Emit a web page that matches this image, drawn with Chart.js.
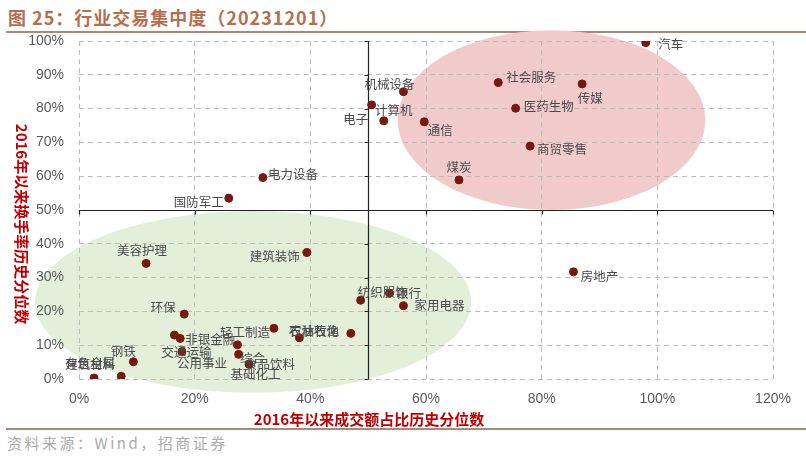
<!DOCTYPE html>
<html>
<head>
<meta charset="utf-8">
<script src="https://cdn.jsdelivr.net/npm/chart.js@4.4.0/dist/chart.umd.min.js"></script>
<style>
  html, body { margin: 0; padding: 0; background: #fff; }
  #wrap { position: relative; width: 806px; height: 458px; overflow: hidden; }
  #title { position: absolute; left: 8px; top: 4px; font: bold 18px "Noto Sans CJK SC", sans-serif; color: #b86e4c; letter-spacing: 1px; }
  .rule { position: absolute; left: 6px; right: 0; height: 2px; background: #a88a78; }
  #source { position: absolute; left: 7px; top: 432px; font: 15px "Noto Sans CJK SC", sans-serif; color: #ababab; letter-spacing: 2.5px; }
  #box { position: absolute; left: 0; top: 0; width: 806px; height: 458px; }
</style>
</head>
<body>
<div id="wrap">
  <div id="title">图 25：行业交易集中度（20231201）</div>
  <div class="rule" style="top:31px"></div>
  <div class="rule" style="top:428px"></div>
  <div id="source">资料来源：Wind，招商证券</div>
  <div id="box"><canvas id="chart"></canvas></div>
</div>
<script>
// --- 數據 (從圖上讀取的估計值) ---
const industries = ["汽车","社会服务","传媒","医药生物","商贸零售","煤炭","通信","机械设备","计算机","电子",
  "电力设备","国防军工","美容护理","建筑装饰","房地产","纺织服饰","银行","家用电器","农林牧渔","石油石化",
  "轻工制造","环保","钢铁","有色金属","建筑材料","非银金融","交通运输","公用事业","综合","基础化工","食品饮料"];
// 2016年以来成交额占比历史分位数
const amountPct = [0.980,0.725,0.870,0.755,0.780,0.657,0.597,0.561,0.506,0.527,
  0.318,0.259,0.116,0.394,0.855,0.487,0.537,0.561,0.381,0.470,
  0.337,0.182,0.094,0.026,0.073,0.175,0.165,0.178,0.274,0.276,0.294];
// 2016年以来换手率历史分位数
const turnoverPct = [0.995,0.877,0.873,0.801,0.689,0.589,0.761,0.850,0.811,0.764,
  0.596,0.535,0.342,0.374,0.317,0.233,0.254,0.217,0.122,0.135,
  0.150,0.192,0.051,0.003,0.008,0.120,0.130,0.081,0.101,0.073,0.044];
const xTicks = [0, 0.2, 0.4, 0.6, 0.8, 1.0, 1.2];
const yTicks = [0, 0.1, 0.2, 0.3, 0.4, 0.5, 0.6, 0.7, 0.8, 0.9, 1.0];
// 兩個區域橢圓 (中心與半徑, 數據單位)
const zoneCenters = [[0.817, 0.766], [0.301, 0.228]];
const zoneRadii = [[0.266, 0.266], [0.377, 0.269]];
const crossAt = [0.5, 0.5];

// --- 樣式 ---
const zoneColors = ["#f1caca", "#e3efd9"];
const pointColor = "#78190f";
// 標籤相對於點的偏移 (像素, 標籤中心)
const labelShift = [[25,2],[33,-5],[8,14],[33,-2],[32,3],[0,-13],[16,8],[-14,-7],[22,5],[-28,-2],
  [30,-3],[-30,4],[-4,-13],[-32,4],[26,4],[22,-8],[19,0],[36,0],[15,-7],[-37,-2],
  [-29,4],[-21,-7],[-10,-11],[-4,-15],[-31,-12],[30,1],[12,17],[20,12],[15,13],[17,20],[21,0]];

const pct = v => Math.round(v * 100) + "%";

// 區域橢圓, 畫在網格之前
const zonePlugin = {
  id: "zones",
  beforeDraw(chart) {
    const { ctx, scales: { x, y } } = chart;
    ctx.save();
    zoneCenters.forEach((c, i) => {
      const cx = x.getPixelForValue(c[0]);
      const cy = y.getPixelForValue(c[1]);
      const rx = x.getPixelForValue(c[0] + zoneRadii[i][0]) - cx;
      const ry = cy - y.getPixelForValue(c[1] + zoneRadii[i][1]);
      ctx.beginPath();
      ctx.ellipse(cx, cy, rx, ry, 0, 0, Math.PI * 2);
      ctx.fillStyle = zoneColors[i];
      ctx.fill();
    });
    ctx.restore();
  }
};

// 十字軸 (50% / 50%)
const crossPlugin = {
  id: "cross",
  beforeDatasetsDraw(chart) {
    const { ctx, scales: { x, y } } = chart;
    const px = Math.round(x.getPixelForValue(crossAt[0])) + 0.5;
    const py = Math.round(y.getPixelForValue(crossAt[1])) + 0.5;
    ctx.save();
    ctx.strokeStyle = "#222";
    ctx.lineWidth = 1.2;
    ctx.beginPath();
    ctx.moveTo(px, y.getPixelForValue(0));
    ctx.lineTo(px, y.getPixelForValue(1));
    ctx.moveTo(x.getPixelForValue(0), py);
    ctx.lineTo(x.getPixelForValue(1.2), py);
    yTicks.forEach(t => {
      const ty = Math.round(y.getPixelForValue(t)) + 0.5;
      ctx.moveTo(px - 4, ty);
      ctx.lineTo(px, ty);
    });
    xTicks.forEach(t => {
      const tx = Math.round(x.getPixelForValue(t)) + 0.5;
      ctx.moveTo(tx, py);
      ctx.lineTo(tx, py + 4);
    });
    ctx.stroke();
    ctx.restore();
  }
};

// 行業名稱標籤 + 軸標題
const labelPlugin = {
  id: "labels",
  afterDatasetsDraw(chart) {
    const { ctx } = chart;
    const meta = chart.getDatasetMeta(0);
    ctx.save();
    ctx.font = '12.5px "Noto Sans CJK SC", sans-serif';
    ctx.fillStyle = "#4a4a4a";
    ctx.textAlign = "center";
    ctx.textBaseline = "middle";
    meta.data.forEach((pt, i) => {
      ctx.fillText(industries[i], pt.x + labelShift[i][0], pt.y + labelShift[i][1]);
    });

    ctx.fillStyle = "#c00000";
    ctx.font = 'bold 15px "Noto Sans CJK SC", sans-serif';
    ctx.fillText("2016年以来成交额占比历史分位数", 369, 419);
    ctx.translate(22, 224);
    ctx.rotate(Math.PI / 2);
    ctx.fillText("2016年以来换手率历史分位数", 0, 0);
    ctx.restore();
  }
};

const points = amountPct.map((v, i) => ({ x: v, y: turnoverPct[i] }));

new Chart(document.getElementById("chart"), {
  type: "scatter",
  data: {
    datasets: [{
      data: points,
      backgroundColor: pointColor,
      borderColor: pointColor,
      pointRadius: 4,
      pointHoverRadius: 4
    }]
  },
  options: {
    responsive: true,
    maintainAspectRatio: false,
    animation: false,
    events: [],
    layout: { padding: { left: 0, top: 41, right: 33, bottom: 49 } },
    plugins: { legend: { display: false }, tooltip: { enabled: false } },
    scales: {
      x: {
        type: "linear", min: 0, max: 1.2,
        afterBuildTicks: s => { s.ticks = xTicks.map(v => ({ value: v })); },
        afterFit: s => { s.height = 30; },
        ticks: { callback: pct, color: "#595959", padding: 12, font: { family: "Liberation Sans", size: 14 } },
        grid: { color: "#bdbdbd", drawTicks: false },
        border: { display: false, dash: [5, 4] }
      },
      y: {
        type: "linear", min: 0, max: 1,
        afterBuildTicks: s => { s.ticks = yTicks.map(v => ({ value: v })); },
        afterFit: s => { s.width = 79; },
        ticks: { callback: pct, color: "#595959", padding: 15, font: { family: "Liberation Sans", size: 14 } },
        grid: { color: "#bdbdbd", drawTicks: false },
        border: { display: false, dash: [5, 4] }
      }
    }
  },
  plugins: [zonePlugin, crossPlugin, labelPlugin]
});
</script>
</body>
</html>
